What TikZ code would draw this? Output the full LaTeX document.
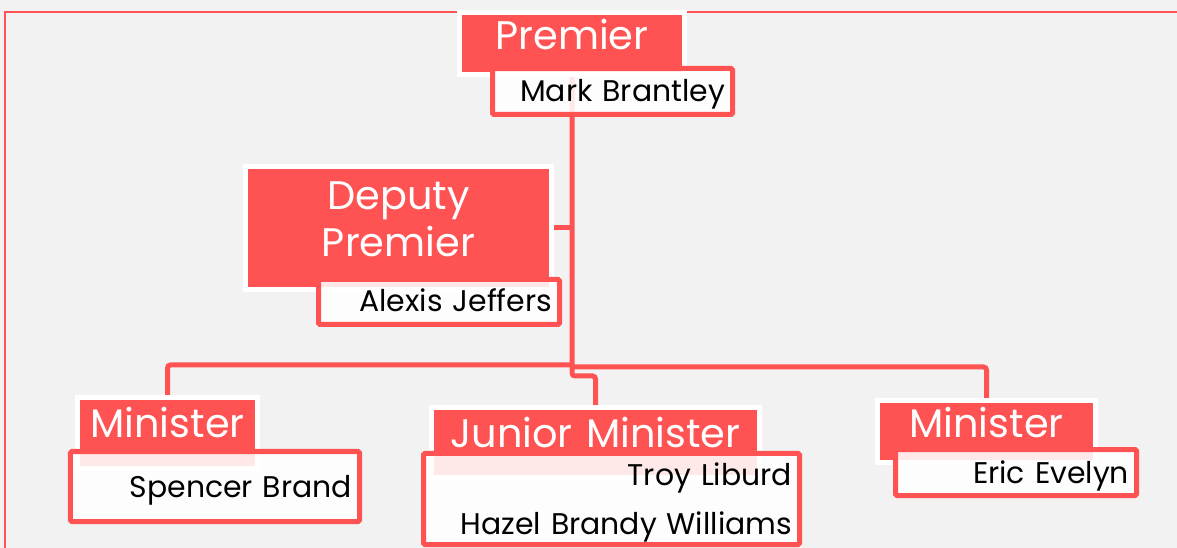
\documentclass[tikz,border=0pt]{standalone}
\usepackage{fontspec}
\setmainfont{Poppins}
\usetikzlibrary{positioning}
\definecolor{govred}{RGB}{255,83,83}
\definecolor{slide}{RGB}{242,242,242}
\pgfdeclarelayer{back}
\pgfsetlayers{back,main}
\tikzset{
  rolebox/.style={fill=govred,draw=white,line width=5bp,text=white,inner sep=0pt,align=center,
    font=\fontsize{40}{47}\selectfont},
  namebox/.style={fill=white,fill opacity=0.87,text opacity=1,draw=govred,line width=5bp,
    rounded corners=1.5bp,text=black,inner xsep=7.5bp,inner ysep=0pt,align=right,
    font=\fontsize{30}{50}\selectfont},
  link/.style={draw=govred,line width=5bp,rounded corners=3bp}
}
\begin{document}
\begin{tikzpicture}[x=1bp,y=-1bp]
\useasboundingbox (0,0) rectangle (1177,548);
\clip (0,0) rectangle (1177,548);
\begin{pgfonlayer}{back}
  \fill[slide] (0,0) rectangle (1177,548);
  \draw[govred,line width=2bp] (5,12) rectangle (1200,570);
\end{pgfonlayer}
% titles
\node[rolebox,text width=225bp,text height=37.5bp,text depth=24.5bp] (ptitle) at (572,43.5) {Premier};
\node[namebox,text width=225bp,text height=33.5bp,text depth=12.5bp] (pname) at (612.5,91.5) {Mark Brantley};
\node[rolebox,text width=306bp,text height=43.5bp,text depth=79.5bp] (dtitle) at (398.5,228) {Deputy\\Premier};
\node[namebox,text width=226bp,text height=32.5bp,text depth=12.5bp] (dname) at (439,302) {Alexis Jeffers};
\node[rolebox,text width=180bp,text height=39.5bp,text depth=31.5bp] (m1title) at (167.5,433) {Minister};
\node[namebox,text width=274bp,text height=45.5bp,text depth=24.5bp] (m1name) at (215,486.5) {Spencer Brand};
\node[rolebox,text width=328bp,text height=39.5bp,text depth=30.5bp] (jtitle) at (595.5,442.5) {Junior Minister};
\node[namebox,text width=361bp,text height=31.5bp,text depth=59.5bp] (jname) at (611.5,499) {Troy Liburd\\Hazel Brandy Williams};
\node[rolebox,text width=218bp,text height=36.5bp,text depth=25.5bp] (m2title) at (986.5,431.5) {Minister};
\node[namebox,text width=226bp,text height=33.5bp,text depth=12.5bp] (m2name) at (1016,472.5) {Eric Evelyn};
% connectors
\coordinate (hub) at (572,365);
\coordinate (hubr) at (572,367);
\begin{pgfonlayer}{back}
  \draw[link] (ptitle.south) -- (ptitle.south |- 0,376) -| (jtitle.north);
  \draw[link] (dtitle.east) -- (dtitle.east -| ptitle.south);
  \draw[link] (m1title.north) |- (hub);
  \draw[link] (m2title.north) |- (hubr);
\end{pgfonlayer}
\end{tikzpicture}
\end{document}
